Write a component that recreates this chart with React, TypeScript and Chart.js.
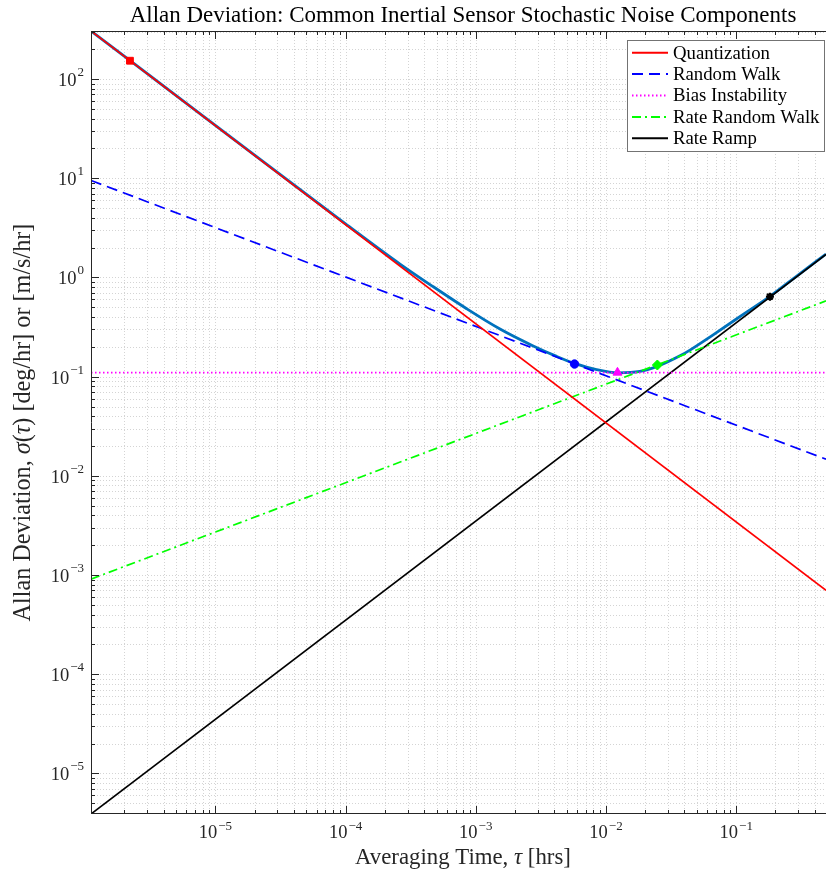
import { useEffect, useRef } from "react";
import { Chart, registerables } from "chart.js";
Chart.register(...registerables);

// ---- data ----
const xRange = [1.11e-6, 0.489];
const yRange = [3.9e-6, 305];

const tauEnds = [1.11e-6, 0.489];
const quantization = [305, 7.0e-4];
const randomWalk = [9.5, 0.0147];
const biasInstability = [0.11, 0.11];
const rateRandomWalk = [9.1e-4, 0.58];
const rateRamp = [3.9e-6, 1.71];

const totalTau = [1.11e-6, 1e-5, 1e-4, 2.62e-4, 4.72e-4, 8.51e-4, 1.535e-3, 2.76e-3, 4.18e-3, 5.73e-3, 8.47e-3, 0.0124, 0.0182, 0.0252, 0.037, 0.0441, 0.0665, 0.12, 0.1815, 0.3, 0.489];
const totalSigma = [305, 34.2, 3.47, 1.365, 0.805, 0.484, 0.302, 0.204, 0.16, 0.136, 0.1175, 0.109, 0.1127, 0.128, 0.162, 0.185, 0.264, 0.447, 0.646, 1.064, 1.72];

const markerTau = [2.21e-6, 5.73e-3, 0.01225, 0.0248, 0.1815];
const markerSigma = [153, 0.134, 0.11, 0.131, 0.64];

const xTickExps = [-5, -4, -3, -2, -1];
const yTickExps = [-5, -4, -3, -2, -1, 0, 1, 2];

const componentLabels = ["Quantization", "Random Walk", "Bias Instability", "Rate Random Walk", "Rate Ramp"];
const componentValues = [quantization, randomWalk, biasInstability, rateRandomWalk, rateRamp];
const componentColors = ["#ff0000", "#0000ff", "#ff00ff", "#00ff00", "#000000"];
const componentDashes = [[], [11, 6], [1.5, 2.5], [9, 4, 2, 4], []];
const markerColors = ["#ff0000", "#0000ff", "#ff00ff", "#00ff00", "#000000"];
const markerStyles = ["rect", "circle", "triangle", "rectRot", "star"];
const markerRadius = [4.8, 4.2, 5.2, 5, 4];

const TITLE = "Allan Deviation: Common Inertial Sensor Stochastic Noise Components";
const SERIF = '"Liberation Serif", "Times New Roman", serif';

type Seg = { t: string; it?: boolean };

function segFont(s: Seg, size: number) {
  return `${s.it ? "italic " : ""}${size}px ${SERIF}`;
}
function segWidth(ctx: CanvasRenderingContext2D, segs: Seg[], size: number) {
  let w = 0;
  for (const s of segs) {
    ctx.font = segFont(s, size);
    w += ctx.measureText(s.t).width;
  }
  return w;
}
function fitSize(ctx: CanvasRenderingContext2D, segs: Seg[], target: number) {
  const w = segWidth(ctx, segs, 20);
  return (20 * target) / w;
}
function drawRich(ctx: CanvasRenderingContext2D, segs: Seg[], size: number, cx: number, baseline: number) {
  const total = segWidth(ctx, segs, size);
  let x = cx - total / 2;
  ctx.textAlign = "left";
  ctx.textBaseline = "alphabetic";
  for (const s of segs) {
    ctx.font = segFont(s, size);
    ctx.fillText(s.t, x, baseline);
    x += ctx.measureText(s.t).width;
  }
}

function tickValues(min: number, max: number) {
  const out: { v: number; major: boolean }[] = [];
  for (let e = Math.floor(Math.log10(min)); e <= Math.ceil(Math.log10(max)); e++) {
    for (let k = 1; k <= 9; k++) {
      const v = k * Math.pow(10, e);
      if (v >= min * 0.9999 && v <= max * 1.0001) out.push({ v, major: k === 1 });
    }
  }
  return out;
}

const deco = {
  id: "deco",
  beforeDatasetsDraw(chart: any) {
    const { ctx, chartArea: a, scales } = chart;
    ctx.save();
    ctx.strokeStyle = "#d4d4d4";
    ctx.lineWidth = 1;
    ctx.setLineDash([1, 2]);
    for (const t of tickValues(xRange[0], xRange[1])) {
      const px = Math.round(scales.x.getPixelForValue(t.v)) + 0.5;
      ctx.beginPath();
      ctx.moveTo(px, a.top);
      ctx.lineTo(px, a.bottom);
      ctx.stroke();
    }
    for (const t of tickValues(yRange[0], yRange[1])) {
      const py = Math.round(scales.y.getPixelForValue(t.v)) + 0.5;
      ctx.beginPath();
      ctx.moveTo(a.left, py);
      ctx.lineTo(a.right, py);
      ctx.stroke();
    }
    ctx.restore();
  },
  afterDraw(chart: any) {
    const { ctx, chartArea: a, scales } = chart;
    ctx.save();
    const axisColor = "#262626";
    // axes lines (left, top, bottom; right edge lies beyond the picture)
    ctx.strokeStyle = axisColor;
    ctx.lineWidth = 1;
    ctx.setLineDash([]);
    ctx.beginPath();
    ctx.moveTo(Math.round(a.left) + 0.5, Math.round(a.top) + 0.5);
    ctx.lineTo(Math.round(a.right) + 0.5, Math.round(a.top) + 0.5);
    ctx.moveTo(Math.round(a.left) + 0.5, Math.round(a.bottom) - 0.5);
    ctx.lineTo(Math.round(a.right) + 0.5, Math.round(a.bottom) - 0.5);
    ctx.moveTo(Math.round(a.left) + 0.5, Math.round(a.top));
    ctx.lineTo(Math.round(a.left) + 0.5, Math.round(a.bottom));
    ctx.stroke();
    // ticks (inward)
    ctx.beginPath();
    for (const t of tickValues(xRange[0], xRange[1])) {
      const px = Math.round(scales.x.getPixelForValue(t.v)) + 0.5;
      const L = t.major ? 8 : 4;
      ctx.moveTo(px, a.bottom);
      ctx.lineTo(px, a.bottom - L);
      ctx.moveTo(px, a.top);
      ctx.lineTo(px, a.top + L);
    }
    for (const t of tickValues(yRange[0], yRange[1])) {
      const py = Math.round(scales.y.getPixelForValue(t.v)) + 0.5;
      const L = t.major ? 8 : 4;
      ctx.moveTo(a.left, py);
      ctx.lineTo(a.left + L, py);
    }
    ctx.stroke();

    // tick labels
    const baseSize = 18.5;
    const expSize = 13;
    ctx.fillStyle = axisColor;
    ctx.textBaseline = "alphabetic";
    ctx.textAlign = "left";
    const expText = (e: number) => (e < 0 ? "\u2212" + Math.abs(e) : String(e));
    for (const e of xTickExps) {
      const px = scales.x.getPixelForValue(Math.pow(10, e));
      ctx.font = `${baseSize}px ${SERIF}`;
      const w1 = ctx.measureText("10").width;
      ctx.font = `${expSize}px ${SERIF}`;
      const w2 = ctx.measureText(expText(e)).width;
      const x0 = px - (w1 + w2 + 1) / 2;
      ctx.font = `${baseSize}px ${SERIF}`;
      ctx.fillText("10", x0, a.bottom + 24);
      ctx.font = `${expSize}px ${SERIF}`;
      ctx.fillText(expText(e), x0 + w1 + 1, a.bottom + 16);
    }
    for (const e of yTickExps) {
      const py = scales.y.getPixelForValue(Math.pow(10, e));
      ctx.font = `${baseSize}px ${SERIF}`;
      const w1 = ctx.measureText("10").width;
      ctx.font = `${expSize}px ${SERIF}`;
      const w2 = ctx.measureText(expText(e)).width;
      const xr = a.left - 7;
      const x0 = xr - w2 - 1 - w1;
      ctx.font = `${baseSize}px ${SERIF}`;
      ctx.fillText("10", x0, py + 7);
      ctx.font = `${expSize}px ${SERIF}`;
      ctx.fillText(expText(e), x0 + w1 + 1, py - 3);
    }

    // title
    ctx.fillStyle = "#000000";
    const titleSegs: Seg[] = [{ t: TITLE }];
    drawRich(ctx, titleSegs, fitSize(ctx, titleSegs, 667), 463, 22);

    // x label
    const xSegs: Seg[] = [{ t: "Averaging Time, " }, { t: "\u03c4", it: true }, { t: " [hrs]" }];
    ctx.fillStyle = axisColor;
    const xSize = fitSize(ctx, xSegs, 216);
    drawRich(ctx, xSegs, xSize, 463, 864);

    // y label
    const ySegs: Seg[] = [
      { t: "Allan Deviation, " },
      { t: "\u03c3", it: true },
      { t: "(" },
      { t: "\u03c4", it: true },
      { t: ") [deg/hr] or [m/s/hr]" },
    ];
    ctx.save();
    ctx.translate(29.5, (a.top + a.bottom) / 2);
    ctx.rotate(-Math.PI / 2);
    drawRich(ctx, ySegs, xSize * 1.06, 0, 0);
    ctx.restore();

    // legend
    const bx = 627.5, by = 40.5, bw = 197, bh = 111;
    ctx.fillStyle = "#ffffff";
    ctx.fillRect(bx, by, bw, bh);
    ctx.strokeStyle = "#737373";
    ctx.lineWidth = 1;
    ctx.strokeRect(bx, by, bw, bh);
    const legSegs: Seg[] = [{ t: "Quantization" }];
    const legSize = fitSize(ctx, legSegs, 97);
    const comps = chart.data.datasets.filter((d: any) => componentLabels.includes(d.label));
    comps.forEach((d: any, i: number) => {
      const cy = 52.7 + i * 21.4;
      ctx.strokeStyle = d.borderColor;
      ctx.lineWidth = 2;
      ctx.setLineDash(d.borderDash || []);
      ctx.beginPath();
      ctx.moveTo(632, cy);
      ctx.lineTo(668, cy);
      ctx.stroke();
      ctx.setLineDash([]);
      ctx.fillStyle = "#000000";
      ctx.font = `${legSize}px ${SERIF}`;
      ctx.textAlign = "left";
      ctx.textBaseline = "middle";
      ctx.fillText(d.label, 673, cy + 1);
    });
    ctx.restore();
  },
};

export default function App() {
  const ref = useRef<HTMLCanvasElement | null>(null);
  useEffect(() => {
    document.body.style.margin = "0";
    const canvas = ref.current;
    if (!canvas) return;
    const markerSets = markerTau.map((t, i) => ({
      label: "marker" + i,
      data: [{ x: t, y: markerSigma[i] }],
      showLine: false,
      pointStyle: markerStyles[i],
      pointRadius: markerRadius[i],
      pointBackgroundColor: markerColors[i],
      pointBorderColor: markerColors[i],
      pointBorderWidth: markerStyles[i] === "star" ? 2.2 : 1,
      order: 0,
    }));
    const compSets = componentLabels.map((label, i) => ({
      label,
      data: tauEnds.map((t, j) => ({ x: t, y: componentValues[i][j] })),
      borderColor: componentColors[i],
      borderWidth: 1.7,
      borderDash: componentDashes[i],
      pointRadius: 0,
      fill: false,
      order: 1,
    }));
    const totalSet = {
      label: "Total",
      data: totalTau.map((t, j) => ({ x: t, y: totalSigma[j] })),
      borderColor: "#0072bd",
      borderWidth: 2.8,
      pointRadius: 0,
      cubicInterpolationMode: "monotone",
      fill: false,
      order: 2,
    };
    const chart = new Chart(canvas, {
      type: "line",
      data: { datasets: [...markerSets, ...compSets, totalSet] as any },
      options: {
        animation: false,
        responsive: false,
        devicePixelRatio: 1,
        layout: { autoPadding: false, padding: { left: 91, top: 31, right: 0, bottom: 58 } },
        plugins: {
          legend: { display: false },
          title: { display: false },
          tooltip: { enabled: false },
        },
        scales: {
          x: {
            type: "logarithmic",
            min: xRange[0],
            max: xRange[1],
            ticks: { display: false },
            grid: { display: false, drawTicks: false },
            border: { display: false },
          },
          y: {
            type: "logarithmic",
            min: yRange[0],
            max: yRange[1],
            ticks: { display: false },
            grid: { display: false, drawTicks: false },
            border: { display: false },
          },
        },
      } as any,
      plugins: [deco],
    });
    return () => chart.destroy();
  }, []);
  return (
    <div style={{ width: 826, height: 872 }}>
      <canvas ref={ref} width={826} height={872} style={{ display: "block", width: 826, height: 872 }} />
    </div>
  );
}
